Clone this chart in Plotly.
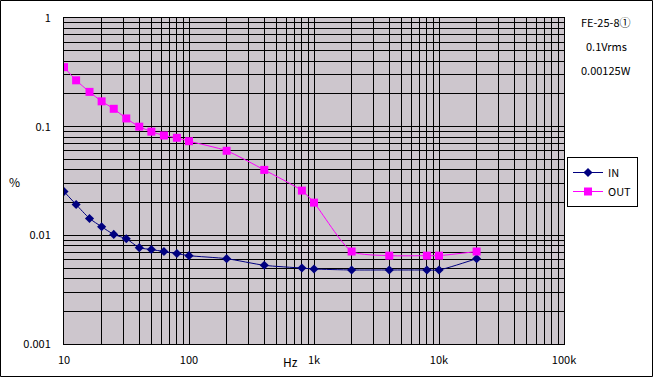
import plotly.graph_objects as go

freq = [10, 12.5, 16, 20, 25, 31.5, 40, 50, 63, 80, 100, 200, 400, 800, 1000, 2000, 4000, 8000, 10000, 20000]
in_vals = [0.0253, 0.0192, 0.0143, 0.0120, 0.0102, 0.0093, 0.0077, 0.0074, 0.0071, 0.0068, 0.0065, 0.0061,
           0.0053, 0.0050, 0.0049, 0.0048, 0.0048, 0.0048, 0.0048, 0.0061]
out_vals = [0.353, 0.267, 0.209, 0.171, 0.146, 0.119, 0.100, 0.090, 0.083, 0.079, 0.0735, 0.060,
            0.040, 0.0258, 0.0200, 0.0071, 0.0065, 0.0065, 0.0065, 0.0071]

x_major = [10, 100, 1000, 10000, 100000]
x_major_text = ["10", "100", "1k", "10k", "100k"]
y_major = [0.001, 0.01, 0.1, 1]
y_major_text = ["0.001", "0.01", "0.1", "1"]

info_lines = ["FE-25-8①", "0.1Vrms", "0.00125W"]


def all_ticks(majors):
    vals = []
    for i, m in enumerate(majors):
        vals.append(m)
        if i < len(majors) - 1:
            for k in range(2, 10):
                vals.append(m * k)
    return vals


xt_vals = all_ticks(x_major)
xt_text = [x_major_text[x_major.index(v)] if v in x_major else "" for v in xt_vals]
yt_vals = all_ticks(y_major)
yt_text = [y_major_text[y_major.index(v)] if v in y_major else "" for v in yt_vals]

FONT = "Noto Sans CJK JP, DejaVu Sans, sans-serif"

fig = go.Figure()
fig.add_trace(go.Scatter(
    x=freq, y=in_vals, name="IN", mode="lines+markers",
    line=dict(color="#000080", width=1, shape="spline", smoothing=0.6),
    marker=dict(symbol="diamond", size=7, color="#000080"),
))
fig.add_trace(go.Scatter(
    x=freq, y=out_vals, name="OUT", mode="lines+markers",
    line=dict(color="#FF00FF", width=1, shape="spline", smoothing=0.6),
    marker=dict(symbol="square", size=8, color="#FF00FF"),
))

W, H = 653, 377
L, R, T, B = 64, 89, 18, 33
pw, ph = W - L - R, H - T - B

fig.update_layout(
    width=W, height=H,
    margin=dict(l=L, r=R, t=T, b=B, autoexpand=False),
    paper_bgcolor="white",
    plot_bgcolor="#CDC6CD",
    font=dict(family=FONT, size=11, color="black"),
    showlegend=True,
    legend=dict(
        x=(567 - L) / pw, y=(H - B - 157) / ph, xanchor="left", yanchor="top",
        bgcolor="white", bordercolor="black", borderwidth=1,
        font=dict(family=FONT, size=11, color="black"),
        itemwidth=30, tracegroupgap=0,
    ),
    xaxis=dict(
        type="log", range=[1, 5], tickvals=xt_vals, ticktext=xt_text,
        showgrid=True, gridcolor="black", gridwidth=1,
        showline=True, linecolor="black", linewidth=1, mirror=True,
        ticks="", ticklabelstandoff=6, zeroline=False, automargin=False,
    ),
    yaxis=dict(
        type="log", range=[-3, 0], tickvals=yt_vals, ticktext=yt_text,
        showgrid=True, gridcolor="black", gridwidth=1,
        showline=True, linecolor="black", linewidth=1, mirror=True,
        ticks="", ticklabelstandoff=10, zeroline=False, automargin=False,
    ),
)

annotations = [
    dict(text="%", x=(14 - L) / pw, y=(H - B - 181) / ph, xref="paper", yref="paper",
         showarrow=False, xanchor="center", yanchor="middle", font=dict(size=12)),
    dict(text="Hz", x=(290 - L) / pw, y=(H - B - 362) / ph, xref="paper", yref="paper",
         showarrow=False, xanchor="center", yanchor="middle", font=dict(size=12)),
]
for i, line in enumerate(info_lines):
    yc = [22, 46, 70][i]
    annotations.append(dict(text=line, x=(606 - L) / pw, y=(H - B - yc) / ph, xref="paper", yref="paper",
                            showarrow=False, xanchor="center", yanchor="middle", font=dict(size=11)))
fig.update_layout(annotations=annotations)

fig.add_shape(type="rect", xref="paper", yref="paper",
              x0=(0.5 - L) / pw, x1=(W - 0.5 - L) / pw,
              y0=(H - B - (H - 0.5)) / ph, y1=(H - B - 0.5) / ph,
              line=dict(color="black", width=1), fillcolor="rgba(0,0,0,0)", layer="above")

fig.write_html("out.html", config=dict(displayModeBar=False),
               post_script="document.body.style.margin='0';document.body.style.overflow='hidden';")
